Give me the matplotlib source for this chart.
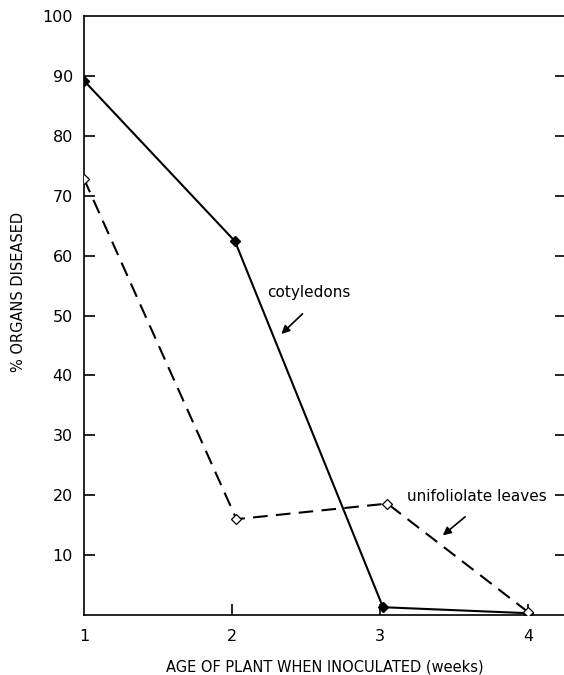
import matplotlib.pyplot as plt

plt.rcParams['font.family'] = ['DejaVu Sans']

weeks = [1, 2, 3, 4]
cotyledons = [89.2, 62.4, 1.3, 0.3]
unifoliolate = [72.8, 16.0, 18.6, 0.5]
cot_x = [1, 2.02, 3.02, 4.0]
uni_x = [1, 2.03, 3.05, 4.0]

fig = plt.figure(figsize=(5.64, 6.75), dpi=100)
ax = fig.add_axes([84 / 564, 60 / 675, (566 - 84) / 564, (615 - 16) / 675])

ax.plot(cot_x, cotyledons, color='black', lw=1.5, marker='D', ms=5,
        mfc='black', mec='black', zorder=3)
ax.plot(uni_x, unifoliolate, color='black', lw=1.5, ls=(0, (7, 4)),
        marker='D', ms=5.5, mfc='white', mec='black', mew=0.9, zorder=3)

ax.set_xlim(1, 1 + 482 / 148)
ax.set_ylim(0, 100)
ax.set_xticks(weeks)
ax.set_yticks(range(10, 101, 10))
ax.set_yticklabels([str(v) for v in range(10, 91, 10)] + ['100'])
ax.tick_params(axis='both', direction='in', length=8, width=1.2,
               labelsize=11.5, pad=8)
ax.tick_params(axis='x', pad=10)
ax.tick_params(axis='y', right=True, labelright=False)
ax.yaxis.get_major_ticks()[-1].tick1line.set_visible(False)
ax.yaxis.get_major_ticks()[-1].tick2line.set_visible(False)
ax.xaxis.get_major_ticks()[0].tick1line.set_visible(False)
for s in ax.spines.values():
    s.set_linewidth(1.2)

ax.set_xlabel('AGE OF PLANT WHEN INOCULATED (weeks)', fontsize=10.5, va='center')
ax.xaxis.set_label_coords(0.5, -0.087)
ax.set_ylabel('% ORGANS DISEASED', fontsize=10.5)
ax.yaxis.set_label_coords(-0.12, 0.54)

ax.annotate('', xy=(2.32, 46.6), xytext=(2.49, 50.6),
            arrowprops=dict(arrowstyle='-|>', color='black', lw=1.2,
                            mutation_scale=12))
ax.text(2.24, 53.9, 'cotyledons', fontsize=11, ha='left', va='center')

ax.annotate('', xy=(3.41, 13.0), xytext=(3.59, 16.7),
            arrowprops=dict(arrowstyle='-|>', color='black', lw=1.2,
                            mutation_scale=12))
ax.text(3.18, 19.7, 'unifoliolate leaves', fontsize=11, ha='left', va='center')

fig.savefig('out.png', dpi=100)
